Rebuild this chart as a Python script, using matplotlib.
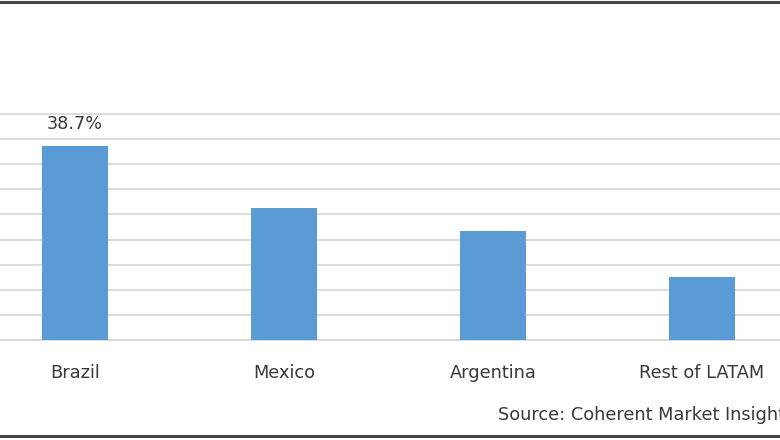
import matplotlib
matplotlib.use("Agg")
import matplotlib.pyplot as plt
from matplotlib.lines import Line2D

# Latin America market share by country (%)
COUNTRIES = ["Brazil", "Mexico", "Argentina", "Rest of LATAM"]
SHARES = [38.7, 26.2, 21.8, 12.6]
LABELLED = {"Brazil": "38.7%"}
SOURCE = "Source: Coherent Market Insights"

BAR = "#5B9BD5"
GRID = "#D9D9D9"
INK = "#383838"

plt.rcParams["font.family"] = ["DejaVu Sans"]

fig = plt.figure(figsize=(7.8, 4.4), dpi=100)
ax = fig.add_axes([0.0, 100 / 440, 1.0, 226 / 440])

x = range(len(COUNTRIES))
ax.bar(x, SHARES, width=0.316, color=BAR, zorder=3)
for i, (name, val) in enumerate(zip(COUNTRIES, SHARES)):
    if name in LABELLED:
        ax.text(i, val + 2.5, LABELLED[name], ha="center", va="bottom",
                fontsize=12.7, color=INK)

ax.set_ylim(0, 45)
ax.set_yticks(range(0, 46, 5))
ax.set_xlim(-0.359, 3.373)
ax.set_xticks(list(x))
ax.set_xticklabels(COUNTRIES, fontsize=12.8, color=INK)
ax.tick_params(axis="x", length=0, pad=17)
ax.tick_params(axis="y", left=False, labelleft=False)
ax.grid(axis="y", color=GRID, linewidth=1.3, zorder=0)
for gl in ax.get_ygridlines():
    gl.set_clip_on(False)
for side in ("top", "right", "left"):
    ax.spines[side].set_visible(False)
ax.spines["bottom"].set_color(GRID)
ax.spines["bottom"].set_linewidth(1.3)

# the source note runs past the right edge, as in the cropped original
fig.text(498 / 780, 1 - 415 / 440, SOURCE, ha="left", va="center",
         fontsize=12.8, color=INK)

# frame lines at top and bottom of the original image
for yy in (1 - 2 / 440, 1 - 436 / 440):
    fig.add_artist(Line2D([0, 1], [yy, yy], transform=fig.transFigure,
                          color="#444444", linewidth=2.2))

fig.savefig("out.png", dpi=100)
